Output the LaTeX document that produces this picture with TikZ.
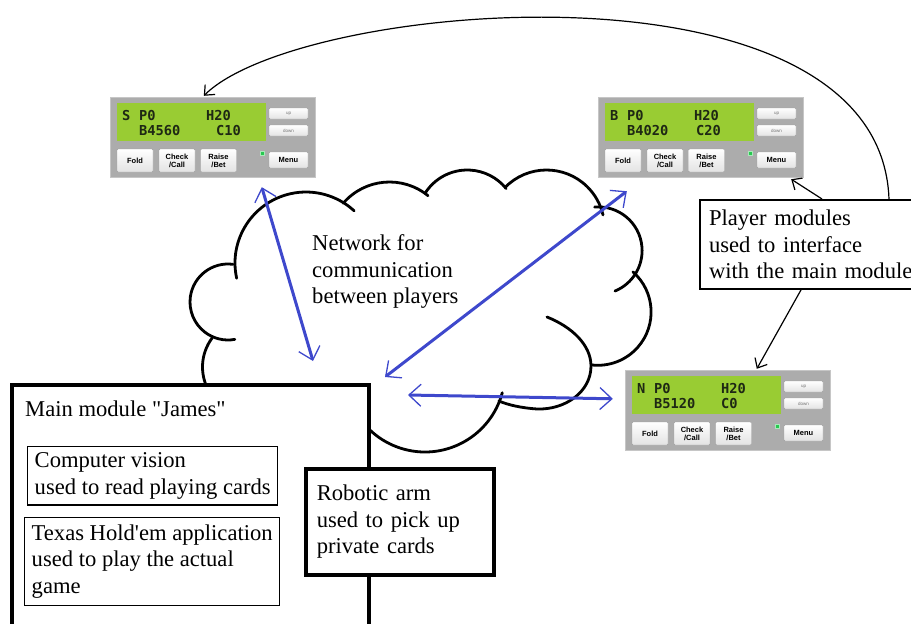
\documentclass[tikz,border=0pt]{standalone}
\usepackage{fontspec}
\newfontfamily\labelfont{Liberation Serif}
\newfontfamily\lcdfont{DejaVu Sans Mono}
\newfontfamily\btnfont{Liberation Sans}
\usetikzlibrary{arrows.meta}

\definecolor{panelgray}{RGB}{172,172,172}
\definecolor{lcdgreen}{RGB}{153,204,51}
\definecolor{lcdink}{RGB}{30,40,20}
\definecolor{netblue}{RGB}{62,72,204}
\definecolor{ledgreen}{RGB}{40,200,80}

\tikzset{
  panel/.style={draw=gray!45, fill=panelgray, minimum width=205pt, minimum height=80pt, inner sep=0pt},
  lcd/.style={fill=lcdgreen, minimum width=149pt, minimum height=38pt, inner sep=0pt},
  lcdtext/.style={anchor=base west, inner sep=0pt, text=lcdink, font=\lcdfont\bfseries\fontsize{13.7}{14}\selectfont},
  btn/.style={draw=gray!75, top color=white, bottom color=gray!22, rounded corners=1pt, inner sep=0pt,
    align=center, font=\btnfont\bfseries\fontsize{7.5}{8}\selectfont},
  smallbtn/.style={btn, minimum width=39pt, minimum height=11pt, text=black!55, font=\btnfont\fontsize{4.5}{5}\selectfont},
  bigbtn/.style={btn, minimum width=36pt, minimum height=23pt},
  led/.style={fill=ledgreen, draw=white!60!ledgreen, minimum size=4pt, inner sep=0pt},
  txt/.style={anchor=north west, inner sep=0pt, align=left, font=\labelfont\fontsize{22.6}{26.5}\selectfont},
  thinbox/.style={txt, draw, line width=1.4pt, fill=white},
  thickbox/.style={draw, line width=3.5pt, fill=white},
  netarrow/.style={netblue, line width=3pt,
    {Straight Barb[length=12pt,width=22pt,line width=1.3pt]}-{Straight Barb[length=12pt,width=22pt,line width=1.3pt]}},
  blkarrow/.style={line width=1.2pt, -{Straight Barb[length=8pt,width=14pt]}},
  cloudline/.style={line width=2.8pt, line cap=round}
}

% one player module: name, top left corner, seat, bank, call, column of call
\newcommand\playerpanel[6]{%
  \begin{scope}[shift={#2}]
    \node[panel] (#1) at (102.5,40) {};
    \node[lcd] (#1-lcd) at (81.5,25) {};
    \node[lcdtext] (#1-seat) at (12,23) {#3};
    \node[lcdtext] (#1-pot) at (29,23) {P0};
    \node[lcdtext] (#1-hand) at (96,23) {H20};
    \node[lcdtext] (#1-bank) at (29,38) {#4};
    \node[lcdtext] (#1-call) at (#6,38) {#5};
    \node[smallbtn] (#1-up) at (178.5,16.5) {up};
    \node[smallbtn] (#1-down) at (178.5,33.5) {down};
    \node[bigbtn] (#1-fold) at (25,63.5) {Fold};
    \node[bigbtn] (#1-check) at (67,63.5) {Check\\/Call};
    \node[bigbtn] (#1-raise) at (108.5,63.5) {Raise\\/Bet};
    \node[btn, minimum width=39pt, minimum height=16pt] (#1-menu) at (178.5,63) {Menu};
    \node[led] (#1-led) at (152,56) {};
  \end{scope}}

\begin{document}
\begin{tikzpicture}[x=1pt, y=-1pt]
  \useasboundingbox (0,0) rectangle (911,624);
  \clip (0,0) rectangle (911,624);

  % the network cloud
  \draw[cloudline] (251,367) ++(150:48.5) arc[start angle=150, end angle=217, radius=48.5];
  \draw[cloudline] (228,302) ++(277.7:38) arc[start angle=277.7, end angle=79.6, radius=38];
  \draw[cloudline] (306,263) ++(167.6:71) arc[start angle=167.6, end angle=312.7, radius=71];
  \draw[cloudline] (389.5,243) ++(220.7:61) arc[start angle=220.7, end angle=309.2, radius=61];
  \draw[cloudline] (467.3,220) ++(212.5:50) arc[start angle=212.5, end angle=321, radius=50];
  \draw[cloudline] (546.5,228) ++(224.5:58) arc[start angle=224.5, end angle=347, radius=58];
  \draw[cloudline] (598.4,250.6) ++(265:43.7) arc[start angle=265, end angle=427.7, radius=43.7];
  \draw[cloudline] (597.8,312) ++(311.3:53.3) arc[start angle=311.3, end angle=456.2, radius=53.3];
  \draw[cloudline] (547,317) .. controls (572,327) and (591,345) .. (591,366)
    .. controls (591,392) and (565,410) .. (537,409) .. controls (522,408) and (508,405) .. (499,401);
  \draw[cloudline] (425,372) ++(15:80) arc[start angle=15, end angle=150, radius=80];
  \node[txt] (net) at (312,234.6) {Network for\\communication\\between players};

  % main module
  \node[thickbox, minimum width=357pt, minimum height=262pt, anchor=north west] (main) at (10,383) {};
  \node[txt] (title) at (25,400.6) {Main module "James"};
  \node[thinbox, inner xsep=7pt, inner ysep=6pt] (vision) at (27,446) {Computer vision\\used to read playing cards};
  \node[thinbox, inner xsep=7pt, inner ysep=7pt] (holdem) at (24,517) {Texas Hold'em application\\used to play the actual\\game};
  \node[txt, thickbox, text width=166pt, minimum height=106pt, inner xsep=11pt] (robot) at (304,467)
    {Robotic arm\\used to pick up\\private cards};

  % player modules
  \playerpanel{pS}{(110,97)}{S}{B4560}{C10}{106}
  \playerpanel{pB}{(598,97)}{B}{B4020}{C20}{98}
  \playerpanel{pN}{(625,370)}{N}{B5120}{C0}{96}
  \node[txt, draw, line width=2pt, fill=white, text width=222pt, inner xsep=9pt, inner ysep=10pt] (players) at (699,199)
    {Player modules\\used to interface\\with the main module};

  % links through the network
  \coordinate (hubS) at (313,361);
  \coordinate (hubB) at (385,377);
  \coordinate (hubN) at (408,395);
  \draw[netarrow] ([shift={(152,10)}]pS.south west) -- (hubS);
  \draw[netarrow] (hubB) -- ([shift={(29,14)}]pB.south west);
  \draw[netarrow] (hubN) -- ([shift={(-12,29)}]pN.north west);

  \draw[blkarrow] ([xshift=123pt]players.north west) -- ([shift={(-12,2)}]pB.south east);
  \draw[blkarrow] ([xshift=102pt]players.south west) -- ([shift={(132,-1)}]pN.north west);
  \draw[blkarrow] ([xshift=190pt]players.north west) .. controls (880,-50) and (300,0) .. ([shift={(94,-1)}]pS.north west);
\end{tikzpicture}
\end{document}
